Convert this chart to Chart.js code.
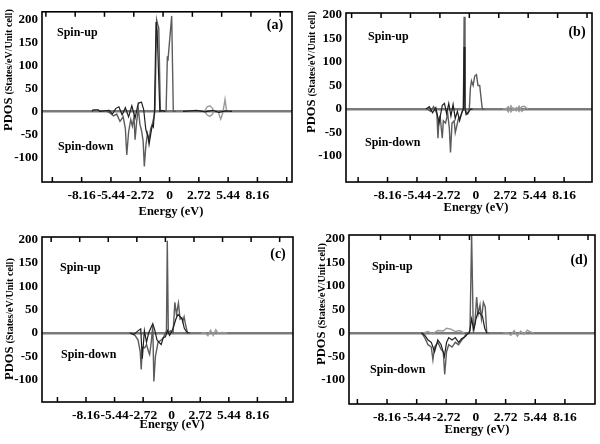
<!DOCTYPE html>
<html><head><meta charset="utf-8">
<script src="https://cdn.jsdelivr.net/npm/chart.js@4.4.1/dist/chart.umd.min.js"></script>
<style>
html,body{margin:0;padding:0;background:#fff;}
#wrap{position:relative;width:600px;height:444px;}
.pane{position:absolute;width:300px;height:222px;}
canvas{display:block;}
</style></head><body>
<div id="wrap">
<div class="pane" style="left:0;top:0"><canvas id="ca" width="300" height="222"></canvas></div>
<div class="pane" style="left:300px;top:0"><canvas id="cb" width="300" height="222"></canvas></div>
<div class="pane" style="left:0;top:222px"><canvas id="cc" width="300" height="222"></canvas></div>
<div class="pane" style="left:300px;top:222px"><canvas id="cd" width="300" height="222"></canvas></div>
</div>
<script>
// ---- tick labels ----
const xTickValues = [-8.16, -5.44, -2.72, 0, 2.72, 5.44, 8.16];
const xTickLabels = ['-8.16', '-5.44', '-2.72', '0', '2.72', '5.44', '8.16'];
const xMarkValues = [-13.6, -10.88, -8.16, -5.44, -2.72, 0, 2.72, 5.44, 8.16, 10.88, 13.6];
const yTickValues = [-100, -50, 0, 50, 100, 150, 200];
const panelLabels = ['(a)', '(b)', '(c)', '(d)'];

// ---- panel (a) ----
const aGrayE = [-5.8,-5.5,-5.2,-4.9,-4.6,-4.3,-4.1,-3.97,-3.8,-3.6,-3.45,-3.3,-3.2,-3.05,-2.9,-2.75,-2.6,-2.45,-2.34,-2.2,-2.05,-1.9,-1.75,-1.6,-1.45,-1.35,-1.2,-1.1,-1.0,-0.85,-0.6,-0.32,-0.2,-0.15,0.2,0.35,0.6];
const aGrayV = [0,-4,-10,-6,-22,-12,-38,-95,-45,-18,-32,-12,-62,-22,6,-28,-42,-65,-120,-75,-48,-62,-38,-28,-12,0,200,190,182,0,0,0,120,110,208,0,0];
const aDarkE = [-7.2,-7.1,-6.6,-6.5,-5.6,-5.3,-5.0,-4.7,-4.4,-4.1,-3.8,-3.5,-3.2,-2.9,-2.6,-2.4,-2.2,-2.0,-1.9,-1.75,-1.6,-1.5,-1.4,-1.25,-1.15,-0.9,-0.7,-0.4,0.8,1.25,2.5,3.3,4.0,4.6,5.2,5.8];
const aDarkV = [0,3,3,0,2,-6,6,10,-8,8,-12,12,-15,18,20,4,-40,-55,-72,-50,-30,-34,0,195,175,0,2,0,null,0,2,-1,2,-2,1,0];
const aLightE = [3.0,3.3,3.5,3.75,4.0,4.07,4.3,4.5,4.75,4.95,5.15,5.3,5.6,5.6,3.3,3.5,3.75,4.0,4.07];
const aLightV = [0,2,10,12,6,0,-2,0,-17,-3,26,2,0,null,-1,-8,-11,-6,0];

// ---- panel (b) ----
const bGrayE = [-4.5,-4.2,-3.9,-3.6,-3.5,-3.4,-3.3,-3.1,-3.0,-2.8,-2.6,-2.45,-2.34,-2.2,-2.0,-1.9,-1.75,-1.6,-1.4,-1.25,-1.15,-1.08,-1.0,-0.9,-0.75,-0.6,-0.5,-0.4,-0.25,-0.1,0.06,0.2,0.36,0.5,0.6,0.8];
const bGrayV = [0,-5,5,-10,-62,-20,-15,-62,-25,-30,-10,-40,-92,-30,-25,-50,-35,-20,-15,-5,0,196,0,-5,-10,0,45,60,50,70,73,50,50,20,0,0];
const bDarkE = [-4.6,-4.3,-4.0,-3.7,-3.4,-3.1,-2.9,-2.7,-2.5,-2.3,-2.1,-1.9,-1.7,-1.5,-1.3,-1.15,-1.08,-1.0,-0.9,-0.7,-0.5,-0.3];
const bDarkV = [0,5,-8,3,-30,8,12,-10,12,-15,10,-20,-5,-25,-8,0,132,0,-12,-8,0,0];
const bLightE = [2.5,2.8,3.0,3.25,3.5,3.75,4.0,4.25,4.5,4.8,4.8,2.8,3.0,3.25,3.5,3.75,4.0,4.25,4.5];
const bLightV = [0,0,-6,7,-3,3,-5,5,6,0,null,0,5,-6,2,-4,6,-5,0];

// ---- panel (c) ----
const cGrayE = [-3.9,-3.5,-3.2,-3.0,-2.9,-2.8,-2.57,-2.4,-2.2,-2.1,-1.95,-1.8,-1.7,-1.55,-1.3,-1.0,-0.8,-0.6,-0.5,-0.42,-0.32,-0.1,0.13,0.3,0.45,0.64,0.8,0.96,1.05,1.18,1.3,1.5,1.8];
const cGrayV = [0,-5,-15,-40,-78,-30,-32,-25,-40,-46,-20,15,-104,-50,-20,-15,-10,0,5,198,0,5,0,66,40,64,30,33,25,35,20,0,0];
const cDarkE = [-4.0,-3.6,-3.3,-2.95,-2.8,-2.6,-2.4,-2.2,-2.0,-1.8,-1.6,-1.4,-1.2,-1.0,-0.8,-0.6,-0.4,-0.2,0,0.2,0.4,0.6,0.8,1.0,1.2,1.4,1.6];
const cDarkV = [0,-3,3,9,-55,5,-20,0,10,20,5,-15,-20,-25,-10,-8,5,-5,3,15,30,40,35,30,10,3,0];
const cLightE = [2.8,3.2,3.45,3.7,3.95,4.2,4.4,4.8,5.3];
const cLightV = [0,0,-6,6,-5,7,0,1,0];

// ---- panel (d) ----
const dGrayE = [-5.0,-4.7,-4.4,-4.1,-3.95,-3.8,-3.5,-3.2,-3.0,-2.87,-2.7,-2.5,-2.2,-1.9,-1.6,-1.3,-1.1,-0.86,-0.7,-0.55,-0.4,-0.25,-0.1,0.06,0.2,0.37,0.5,0.68,0.85,0.99,1.2];
const dGrayV = [0,-10,-25,-30,-57,-30,-20,-35,-40,-88,-40,-25,-30,-20,-25,-15,-10,0,0,5,210,10,20,76,40,59,30,65,55,0,0];
const dDarkE = [-5.0,-4.7,-4.4,-4.1,-3.8,-3.5,-3.2,-2.9,-2.7,-2.5,-2.2,-1.9,-1.6,-1.3,-1.0,-0.8,-0.6,-0.4,-0.2,0,0.2,0.4,0.6,0.8,1.0];
const dDarkV = [0,-5,-15,-20,-40,-15,-25,-50,-20,-10,-15,-10,-20,-12,-8,-3,0,30,5,30,45,40,35,10,0];
const dLightE = [-4.8,-4.4,-4.0,-3.5,-3.0,-2.7,-2.3,-1.9,-1.5,-1.1,2.5,2.5,2.9,3.2,3.5,3.8,4.1,4.4,4.7,5.0,5.3];
const dLightV = [0,3,-2,5,4,10,8,3,5,0,null,0,0,-5,5,-7,4,-3,6,2,0];

const panelSeries = [
  [[aGrayE,aGrayV],[aDarkE,aDarkV],[aLightE,aLightV]],
  [[bGrayE,bGrayV],[bDarkE,bDarkV],[bLightE,bLightV]],
  [[cGrayE,cGrayV],[cDarkE,cDarkV],[cLightE,cLightV]],
  [[dGrayE,dGrayV],[dDarkE,dDarkV],[dLightE,dLightV]]
];

// ---- layout (pixels inside each 300x222 pane) ----
const layouts = [
  {id:'ca', L:42, T:6,  R:292, B:182, xmin:-11.84, xmax:11.37, ymin:-154, ymax:217,
   lab:[275,25], up:[57,33], down:[58,147], xt:[171,212], yt:[7,131]},
  {id:'cb', L:46, T:13, R:292, B:182, xmin:-12.0, xmax:10.74, ymin:-155, ymax:204,
   lab:[277,32], up:[68,37], down:[65,143], xt:[176,208], yt:[10,133]},
  {id:'cc', L:42, T:15, R:293, B:180, xmin:-12.35, xmax:11.55, ymin:-148, ymax:206,
   lab:[278,32], up:[60,46], down:[61,133], xt:[172,203], yt:[8,158]},
  {id:'cd', L:49, T:13, R:295, B:182, xmin:-11.65, xmax:10.92, ymin:-151, ymax:208,
   lab:[279,38], up:[72,45], down:[70,148], xt:[177,208], yt:[20,143]}
];
const colors = ['#5c5c5c', '#1e1e1e', '#9a9a9a'];
const widths = [1.4, 1.2, 1.4];
const SERIF = "'Liberation Serif', 'DejaVu Serif', serif";

function pts(E, V) { return E.map((e, i) => ({x: e, y: V[i]})); }

const decor = {
  id: 'decor',
  afterDraw(chart, args, o) {
    const {ctx, chartArea: a, scales: {x}} = chart;
    ctx.save();
    ctx.strokeStyle = '#000';
    ctx.lineWidth = 1.6;
    ctx.strokeRect(a.left, a.top, a.right - a.left, a.bottom - a.top);
    ctx.lineWidth = 1.5;
    xMarkValues.forEach(v => {
      const pb = x.getPixelForValue(v);
      if (pb > a.left + 3 && pb < a.right - 3) {
        ctx.beginPath(); ctx.moveTo(pb, a.bottom); ctx.lineTo(pb, a.bottom - 5); ctx.stroke();
      }
      const pt = x.getPixelForValue(v - 0.6);
      if (pt > a.left + 3 && pt < a.right - 3) {
        ctx.beginPath(); ctx.moveTo(pt, a.top); ctx.lineTo(pt, a.top + 5); ctx.stroke();
      }
    });
    ctx.fillStyle = '#000';
    ctx.textBaseline = 'middle';
    ctx.font = 'bold 14px ' + SERIF;
    ctx.textAlign = 'center';
    ctx.fillText(o.label, o.lab[0], o.lab[1]);
    ctx.font = 'bold 12px ' + SERIF;
    ctx.textAlign = 'left';
    ctx.fillText('Spin-up', o.up[0], o.up[1]);
    ctx.fillText('Spin-down', o.down[0], o.down[1]);
    ctx.textAlign = 'center';
    ctx.font = 'bold 12.5px ' + SERIF;
    ctx.fillText('Energy (eV)', o.xt[0], o.xt[1]);
    // y title
    ctx.translate(o.yt[0] + 4.5, o.yt[1]);
    ctx.rotate(-Math.PI / 2);
    ctx.textAlign = 'left';
    ctx.textBaseline = 'alphabetic';
    ctx.font = 'bold 12.5px ' + SERIF;
    ctx.fillText('PDOS', 0, 0);
    const w = ctx.measureText('PDOS ').width;
    ctx.font = 'bold 10px ' + SERIF;
    ctx.fillText('(States/eV/Unit cell)', w, 0);
    ctx.restore();
  }
};

layouts.forEach((lo, p) => {
  const ds = panelSeries[p].map((s, k) => ({
    data: pts(s[0], s[1]),
    borderColor: colors[k],
    borderWidth: widths[k],
    pointRadius: 0,
    tension: 0,
    spanGaps: false,
    fill: false,
    order: k === 0 ? 2 : (k === 1 ? 1 : 3)
  }));
  new Chart(document.getElementById(lo.id), {
    type: 'line',
    data: {datasets: ds},
    options: {
      responsive: false,
      animation: false,
      devicePixelRatio: 1,
      layout: {padding: {top: lo.T, right: 300 - lo.R, left: 0, bottom: 0}},
      plugins: {legend: {display: false}, tooltip: {enabled: false}, decor: {
        label: panelLabels[p], lab: lo.lab, up: lo.up, down: lo.down, xt: lo.xt, yt: lo.yt}},
      scales: {
        x: {
          type: 'linear', min: lo.xmin, max: lo.xmax,
          afterBuildTicks: s => { s.ticks = xTickValues.map(v => ({value: v})); },
          afterFit: s => { s.height = 222 - lo.B; },
          ticks: {autoSkip: false, maxRotation: 0, padding: 5, color: '#000',
            font: {family: SERIF, size: 13.5, weight: 'bold'},
            callback: (v, i) => xTickLabels[i]},
          grid: {display: false, drawTicks: false},
          border: {display: false}
        },
        y: {
          type: 'linear', min: lo.ymin, max: lo.ymax,
          afterBuildTicks: s => { s.ticks = yTickValues.map(v => ({value: v})); },
          afterFit: s => { s.width = lo.L; },
          ticks: {autoSkip: false, padding: 4, color: '#000',
            font: {family: SERIF, size: 13, weight: 'bold'},
            callback: v => String(v)},
          grid: {drawTicks: false,
            color: c => (c.tick && c.tick.value === 0) ? '#7a7a7a' : 'rgba(0,0,0,0)',
            lineWidth: c => (c.tick && c.tick.value === 0) ? 2.5 : 0},
          border: {display: false}
        }
      }
    },
    plugins: [decor]
  });
});
</script>
</body></html>
